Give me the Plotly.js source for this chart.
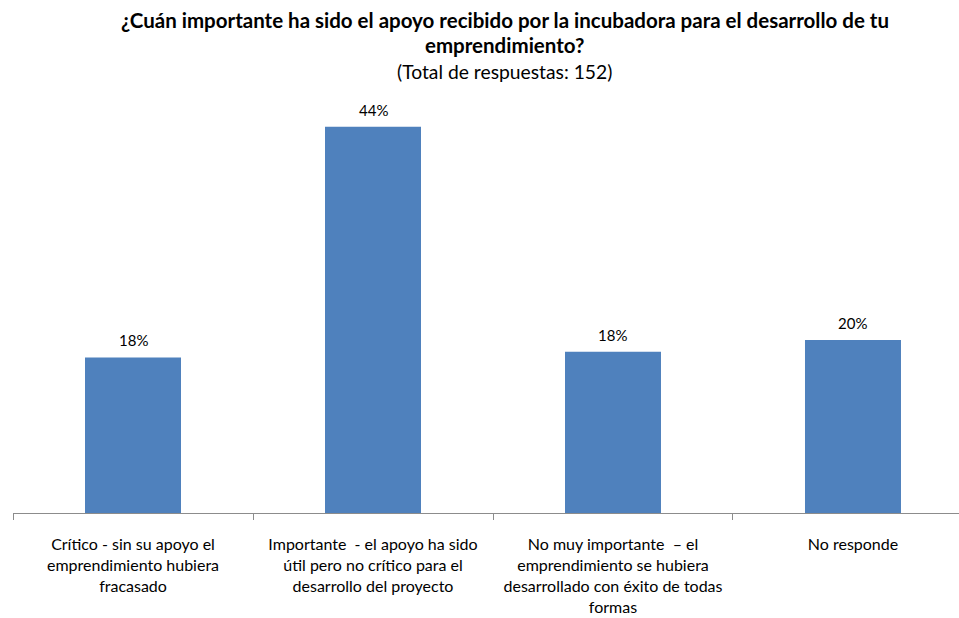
<!DOCTYPE html>
<html>
<head>
<meta charset="utf-8">
<script src="https://cdn.plot.ly/plotly-3.0.1.min.js"></script>
<style>html,body{margin:0;padding:0;background:#fff;}#chart{width:959px;height:618px;}</style>
</head>
<body>
<div id="chart"></div>
<script>
const categories = [
  "Crítico - sin su apoyo el<br>emprendimiento hubiera<br>fracasado",
  "Importante  - el apoyo ha sido<br>útil pero no crítico para el<br>desarrollo del proyecto",
  "No muy importante  – el<br>emprendimiento se hubiera<br>desarrollado con éxito de todas<br>formas",
  "No responde"
];
const responses = [27, 67, 28, 30];
const totalResponses = 152;
const shares = responses.map(v => v / totalResponses);
const dataLabels = shares.map(v => Math.round(v * 100) + "%");
const titleLines = [
  "¿Cuán importante ha sido el apoyo recibido por la incubadora para el desarrollo de tu",
  "emprendimiento?"
];
const subtitle = "(Total de respuestas: " + totalResponses + ")";

const FONT = "Lato, 'Open Sans', sans-serif";

const trace = {
  type: "bar",
  x: categories,
  y: shares,
  marker: {color: "#4F81BD", line: {width: 0}},
  hoverinfo: "skip"
};

const annotations = categories.map((c, i) => ({
  x: c, y: shares[i], xref: "x", yref: "y",
  text: dataLabels[i], showarrow: false,
  yanchor: "bottom", yshift: 6,
  font: {family: FONT, size: 15, color: "#000"}
}));

// title lines (paper coords: plot top at 75px, bottom at 513px, height 438px)
const H = 438, BOTTOM = 513;
const titleY = [20, 45];
titleLines.forEach((t, i) => annotations.push({
  xref: "paper", yref: "paper", x: 0.52, y: (BOTTOM - titleY[i]) / H,
  xanchor: "center", yanchor: "middle", showarrow: false,
  text: "<b>" + t + "</b>",
  font: {family: FONT, size: 20.5, color: "#000"}
}));
annotations.push({
  xref: "paper", yref: "paper", x: 0.52, y: (BOTTOM - 72) / H,
  xanchor: "center", yanchor: "middle", showarrow: false,
  text: subtitle,
  font: {family: FONT, size: 19.3, color: "#000"}
});

const layout = {
  width: 959, height: 618,
  margin: {l: 13, r: 0, t: 75, b: 105},
  paper_bgcolor: "#fff", plot_bgcolor: "#fff",
  bargap: 0.6,
  showlegend: false,
  xaxis: {
    type: "category",
    range: [-0.5, 3.4417],
    showline: true, linecolor: "#8c8c8c", linewidth: 1,
    ticks: "outside", tickson: "boundaries", ticklen: 6, tickcolor: "#8c8c8c",
    tickfont: {family: FONT, size: 16, color: "#000"},
    ticklabelstandoff: 17,
    showgrid: false, zeroline: false, fixedrange: true
  },
  yaxis: {
    range: [0, 0.5],
    visible: false, showgrid: false, zeroline: false, fixedrange: true
  },
  annotations: annotations
};

Plotly.newPlot("chart", [trace], layout, {displayModeBar: false, staticPlot: true});
</script>
</body>
</html>
